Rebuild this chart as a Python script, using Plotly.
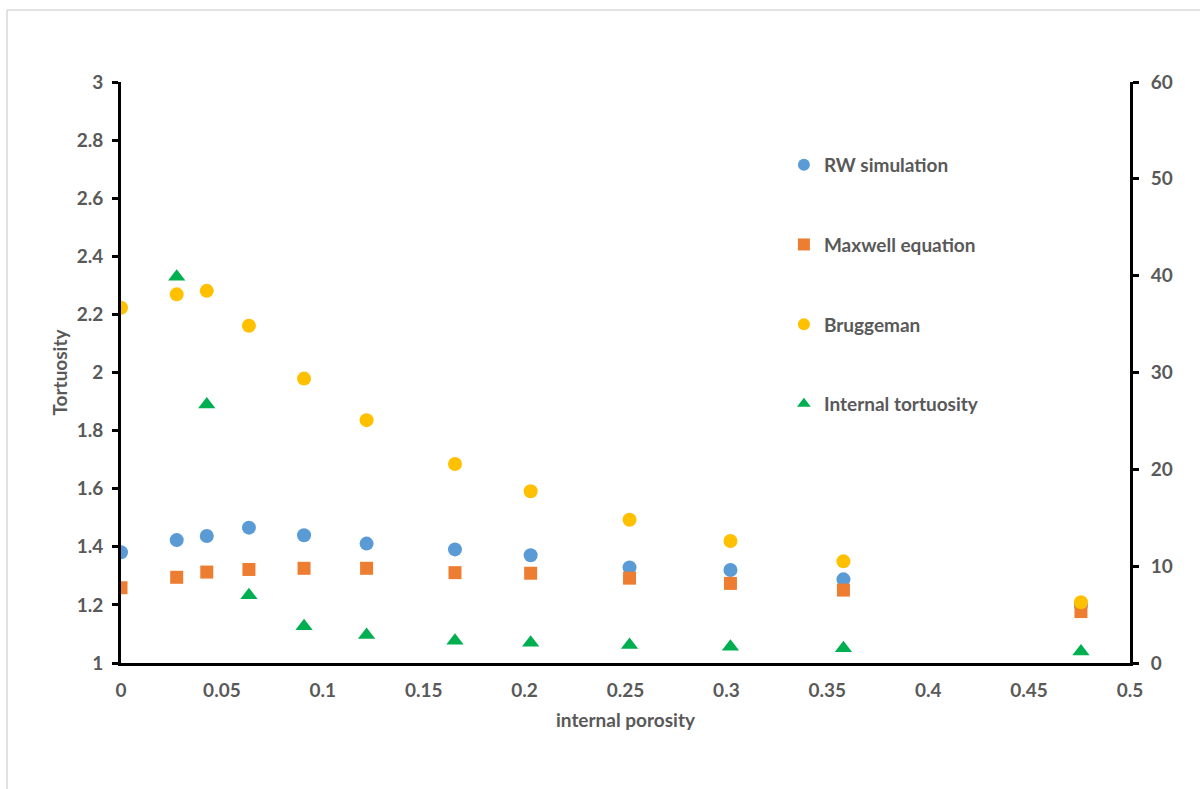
import plotly.graph_objects as go

porosity = [0.0, 0.0276, 0.0425, 0.0634, 0.0907, 0.1217, 0.1655, 0.203, 0.252, 0.302, 0.358, 0.4757]
rw_simulation = [1.381, 1.423, 1.437, 1.466, 1.440, 1.411, 1.391, 1.371, 1.329, 1.320, 1.288, 1.20]
maxwell = [1.259, 1.295, 1.313, 1.322, 1.326, 1.326, 1.311, 1.309, 1.292, 1.274, 1.251, 1.177]
bruggeman = [2.223, 2.269, 2.281, 2.161, 1.979, 1.836, 1.685, 1.591, 1.493, 1.420, 1.350, 1.209]
internal_tortuosity = [39.9, 26.7, 7.0, 3.8, 2.9, 2.3, 2.1, 1.86, 1.69, 1.52, 1.2]
internal_x = porosity[1:]

left_ticks = [1, 1.2, 1.4, 1.6, 1.8, 2, 2.2, 2.4, 2.6, 2.8, 3]
right_ticks = [0, 10, 20, 30, 40, 50, 60]
x_ticks = [0, 0.05, 0.1, 0.15, 0.2, 0.25, 0.3, 0.35, 0.4, 0.45, 0.5]

FONT = "Lato"
GRAY = "#595959"
TICKFONT = dict(family=FONT, size=19, color=GRAY, weight="bold")

fig = go.Figure()
fig.add_trace(go.Scatter(x=porosity, y=rw_simulation, mode="markers", name="RW simulation",
                         legendgroup="a",
                         marker=dict(symbol="circle", size=14, color="#5B9BD5")))
fig.add_trace(go.Scatter(x=porosity, y=maxwell, mode="markers", name="Maxwell equation",
                         legendgroup="b",
                         marker=dict(symbol="square", size=13, color="#ED7D31")))
fig.add_trace(go.Scatter(x=porosity, y=bruggeman, mode="markers", name="Bruggeman",
                         legendgroup="c",
                         marker=dict(symbol="circle", size=14, color="#FFC000")))
fig.add_trace(go.Scatter(x=internal_x, y=internal_tortuosity, mode="markers", name="Internal tortuosity",
                         legendgroup="d", yaxis="y2",
                         marker=dict(symbol="triangle-up", size=15, color="#00B050")))

axis_common = dict(showgrid=False, zeroline=False, showline=True, linecolor="black", linewidth=3,
                   tickfont=TICKFONT)

fig.update_layout(
    width=1200, height=789,
    margin=dict(l=121, r=70, t=82, b=126),
    paper_bgcolor="white", plot_bgcolor="white",
    font=dict(family=FONT, color=GRAY),
    xaxis=dict(range=[0, 0.5], tickvals=x_ticks, ticktext=[f"{v:g}" for v in x_ticks],
               ticks="", ticklabelstandoff=8,
               title=dict(text="internal porosity", font=dict(family=FONT, size=19, color=GRAY, weight="bold"), standoff=14),
               **axis_common),
    yaxis=dict(range=[1, 3], tickvals=left_ticks, ticktext=[f"{v:g}" for v in left_ticks],
               ticks="outside", ticklen=6, tickwidth=3, tickcolor="black", ticklabelstandoff=5,
               title=dict(text="Tortuosity", font=dict(family=FONT, size=19, color=GRAY, weight="bold"), standoff=4),
               **axis_common),
    yaxis2=dict(range=[0, 60], tickvals=right_ticks, overlaying="y", side="right",
                ticks="outside", ticklen=6, tickwidth=3, tickcolor="black", ticklabelstandoff=8,
                **axis_common),
    legend=dict(x=0.657, y=0.89, xanchor="left", yanchor="top", tracegroupgap=52,
                font=dict(family=FONT, size=19, color=GRAY, weight="bold"),
                bgcolor="rgba(0,0,0,0)", itemsizing="constant"),
    showlegend=True,
)

fig.add_shape(type="line", xref="paper", yref="paper", x0=(7 - 121) / 1009, x1=1.2,
              y0=(663 - 10) / 581, y1=(663 - 10) / 581, line=dict(color="#D9D9D9", width=1.5))
fig.add_shape(type="line", xref="paper", yref="paper", x0=(7 - 121) / 1009, x1=(7 - 121) / 1009,
              y0=(663 - 10) / 581, y1=-0.3, line=dict(color="#D9D9D9", width=1.5))

fig.write_html("out.html", config={"displayModeBar": False},
               post_script="document.body.style.margin='0';")
